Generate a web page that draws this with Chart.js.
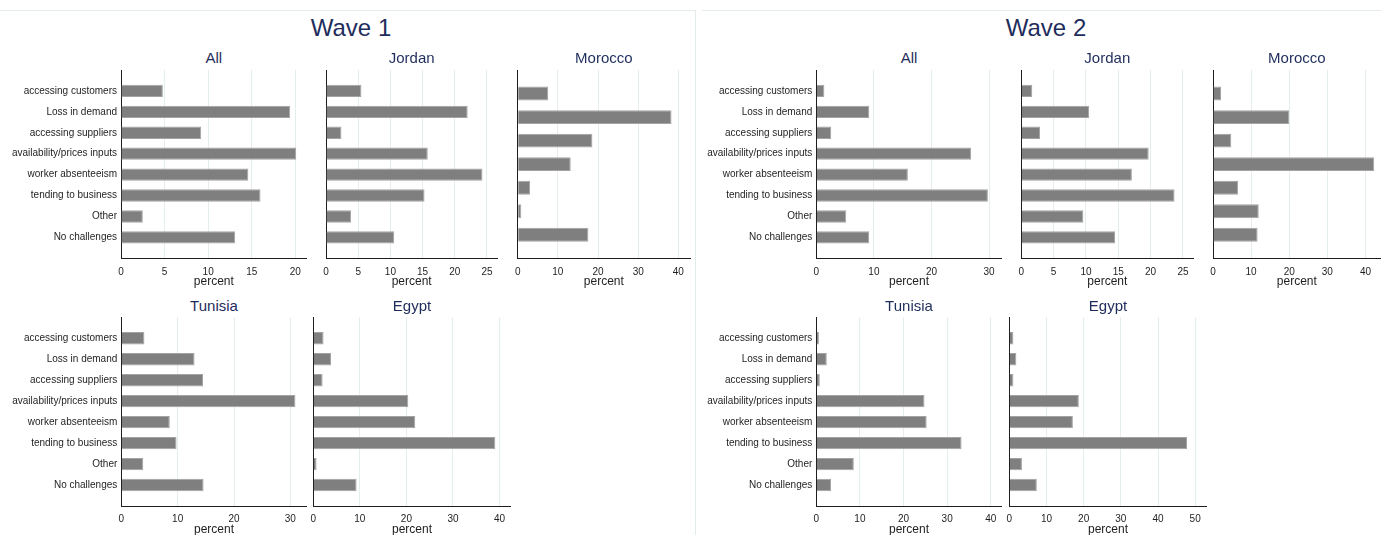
<!DOCTYPE html>
<html>
<head>
<meta charset="utf-8">
<script src="https://cdn.jsdelivr.net/npm/chart.js@4.4.1/dist/chart.umd.min.js"></script>
<style>
  html, body { margin: 0; padding: 0; background: #ffffff; overflow: hidden; }
  body { width: 1381px; height: 535px; position: relative; font-family: "Liberation Sans", Arial, sans-serif; }
  canvas { position: absolute; }
  .wave { position: absolute; width: 300px; text-align: center; font-size: 24px; line-height: 30px; color: #1f2d5c; }
  .ptitle { position: absolute; width: 200px; text-align: center; font-size: 15px; line-height: 20px; color: #1f2d5c; }
  .rule { position: absolute; background: #e3ebeb; }
</style>
</head>
<body>
<script>
// Challenges faced by firms, share of respondents (percent)
const categories = ['accessing customers', 'Loss in demand', 'accessing suppliers',
  'availability/prices inputs', 'worker absenteeism', 'tending to business', 'Other', 'No challenges'];
// Morocco has no "Other" responses
const categoriesMorocco = categories.filter(c => c !== 'Other');

const wave1All     = [4.8, 19.4, 9.2, 20.1, 14.6, 16.0, 2.5, 13.1];
const wave1Jordan  = [5.5, 22.0, 2.4, 15.8, 24.3, 15.3, 3.9, 10.6];
const wave1Morocco = [7.6, 38.3, 18.6, 13.2, 3.1, 0.9, 17.6];
const wave1Tunisia = [4.1, 13.0, 14.5, 30.9, 8.6, 9.8, 3.9, 14.6];
const wave1Egypt   = [2.2, 3.8, 2.0, 20.4, 21.9, 39.1, 0.7, 9.3];

const wave2All     = [1.4, 9.2, 2.6, 26.9, 15.9, 29.8, 5.2, 9.2];
const wave2Jordan  = [1.7, 10.5, 2.9, 19.7, 17.1, 23.7, 9.6, 14.5];
const wave2Morocco = [2.1, 20.0, 4.8, 42.3, 6.6, 12.0, 11.7];
const wave2Tunisia = [0.6, 2.4, 0.8, 24.8, 25.3, 33.3, 8.6, 3.4];
const wave2Egypt   = [1.1, 1.9, 1.1, 18.7, 17.1, 47.8, 3.4, 7.4];

const ticks0to20 = [0, 5, 10, 15, 20];
const ticks0to25 = [0, 5, 10, 15, 20, 25];
const ticks0to30 = [0, 10, 20, 30];
const ticks0to40 = [0, 10, 20, 30, 40];
const ticks0to50 = [0, 10, 20, 30, 40, 50];

const waveTitles = ['Wave 1', 'Wave 2'];

// Panel layout: plot-area edges in page pixels, axis range, labels shown on the first column
const panels = [
  { title: 'All',     cats: categories,        data: wave1All,     ticks: ticks0to20, max: 21.3, x0: 121,   x1: 306.7,  yT: 70,    yB: 258.3, left: 0,   labels: true },
  { title: 'Jordan',  cats: categories,        data: wave1Jordan,  ticks: ticks0to25, max: 26.6, x0: 326,   x1: 497.3,  yT: 70,    yB: 258.3, labels: false },
  { title: 'Morocco', cats: categoriesMorocco, data: wave1Morocco, ticks: ticks0to40, max: 42.9, x0: 517.7, x1: 690,    yT: 70,    yB: 258.3, labels: false },
  { title: 'Tunisia', cats: categories,        data: wave1Tunisia, ticks: ticks0to30, max: 32.9, x0: 121.3, x1: 306.7,  yT: 317.3, yB: 506,   left: 0,   labels: true },
  { title: 'Egypt',   cats: categories,        data: wave1Egypt,   ticks: ticks0to40, max: 42.4, x0: 313.3, x1: 510.7,  yT: 317.3, yB: 506,   labels: false },
  { title: 'All',     cats: categories,        data: wave2All,     ticks: ticks0to30, max: 32.2, x0: 816.3, x1: 1001.7, yT: 70,    yB: 258.3, left: 698, labels: true },
  { title: 'Jordan',  cats: categories,        data: wave2Jordan,  ticks: ticks0to25, max: 26.6, x0: 1021.3,x1: 1193.3, yT: 70,    yB: 258.3, labels: false },
  { title: 'Morocco', cats: categoriesMorocco, data: wave2Morocco, ticks: ticks0to40, max: 44.0, x0: 1213,  x1: 1380.7, yT: 70,    yB: 258.3, labels: false },
  { title: 'Tunisia', cats: categories,        data: wave2Tunisia, ticks: ticks0to40, max: 42.5, x0: 816.3, x1: 1001.7, yT: 317.3, yB: 506,   left: 698, labels: true },
  { title: 'Egypt',   cats: categories,        data: wave2Egypt,   ticks: ticks0to50, max: 53.1, x0: 1009.3,x1: 1206.7, yT: 317.3, yB: 506,   labels: false }
];

const FONT = '"Liberation Sans", Arial, sans-serif';
const TEXT = '#1e1e1e';
const X_AXIS_H = 30.5;

function addDiv(cls, css, text) {
  const d = document.createElement('div');
  d.className = cls;
  Object.assign(d.style, css);
  if (text !== undefined) d.textContent = text;
  document.body.appendChild(d);
  return d;
}

// graph frames
addDiv('rule', { left: '0px', top: '10px', width: '695px', height: '1px' });
addDiv('rule', { left: '695px', top: '10px', width: '1px', height: '525px' });
addDiv('rule', { left: '702px', top: '10px', width: '679px', height: '1px' });

// wave titles
addDiv('wave', { left: (351 - 150) + 'px', top: '12.5px' }, waveTitles[0]);
addDiv('wave', { left: (1046 - 150) + 'px', top: '12.5px' }, waveTitles[1]);

panels.forEach(p => {
  const cx = (p.x0 + p.x1) / 2;
  const titleY = p.yT < 100 ? 58.3 : 305.7;
  addDiv('ptitle', { left: (cx - 100) + 'px', top: (titleY - 10) + 'px' }, p.title);

  const left = p.left !== undefined ? p.left : Math.floor(p.x0 - 4);
  const top = Math.floor(p.yT - 10);
  const W = Math.ceil(p.x1 + 14 - left);
  const H = Math.ceil(p.yB + X_AXIS_H + 4 - top);
  const yAxisW = p.x0 - left;
  const padRight = left + W - p.x1;
  const padTop = p.yT - top;
  const padBottom = top + H - p.yB - X_AXIS_H;

  const cv = document.createElement('canvas');
  cv.width = W; cv.height = H;
  cv.style.left = left + 'px'; cv.style.top = top + 'px';
  cv.style.width = W + 'px'; cv.style.height = H + 'px';
  document.body.appendChild(cv);

  const n = p.cats.length;
  const tickValues = p.ticks;

  new Chart(cv, {
    type: 'bar',
    data: {
      datasets: [{
        data: p.data.map((v, i) => ({ x: v, y: i + 1 })),
        backgroundColor: '#7f7f7f',
        borderColor: '#a3a3a3',
        borderWidth: 1,
        categoryPercentage: 1,
        barPercentage: 0.59
      }]
    },
    options: {
      indexAxis: 'y',
      responsive: false,
      animation: false,
      devicePixelRatio: 1,
      layout: { padding: { left: 0, right: padRight, top: padTop, bottom: padBottom } },
      plugins: { legend: { display: false }, tooltip: { enabled: false }, title: { display: false } },
      scales: {
        y: {
          type: 'linear',
          reverse: true,
          offset: false,
          min: 0,
          max: n + 1,
          afterBuildTicks: s => { s.ticks = p.cats.map((c, i) => ({ value: i + 1 })); },
          afterFit: s => { s.width = yAxisW; s.paddingTop = 0; s.paddingBottom = 0; },
          grid: { display: true, color: 'rgba(0,0,0,0)', drawTicks: false },
          border: { display: true, color: TEXT, width: 1 },
          ticks: {
            display: p.labels,
            padding: 4,
            color: TEXT,
            font: { family: FONT, size: 10 },
            callback: v => p.cats[v - 1] || ''
          }
        },
        x: {
          type: 'linear',
          offset: false,
          min: 0,
          max: p.max,
          afterBuildTicks: s => { s.ticks = tickValues.map(v => ({ value: v })); },
          afterFit: s => { s.height = X_AXIS_H; s.paddingLeft = 0; s.paddingRight = 0; },
          grid: { color: '#e5eded', lineWidth: 1, drawTicks: false },
          border: { display: true, color: TEXT, width: 1 },
          ticks: {
            padding: 7.5,
            color: TEXT,
            font: { family: FONT, size: 10 },
            maxRotation: 0,
            autoSkip: false
          },
          title: {
            display: true,
            text: 'percent',
            color: TEXT,
            font: { family: FONT, size: 12 },
            padding: 0
          }
        }
      }
    }
  });
});
</script>
</body>
</html>
